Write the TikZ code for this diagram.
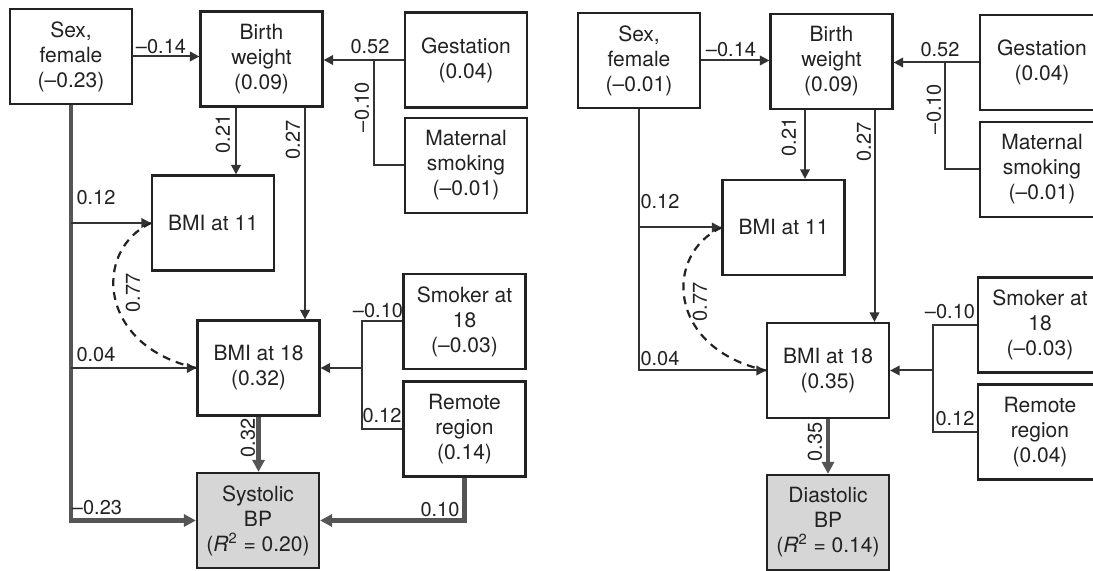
\documentclass[tikz,border=0pt]{standalone}
\usepackage{fontspec}
\setmainfont{TeX Gyre Heros}
\usetikzlibrary{arrows.meta,calc}
\definecolor{ink}{HTML}{222222}
\definecolor{lineC}{HTML}{333333}
\definecolor{thickC}{HTML}{555555}
\definecolor{bpfill}{HTML}{D6D6D6}
\begin{document}
\begin{tikzpicture}[x=0.5pt,y=-0.5pt,
  box/.style={draw=ink, line width=1.1pt, minimum width=61pt, minimum height=47.5pt, align=center, inner sep=0pt, font=\fontsize{10.5}{12.5}\selectfont, text=ink},
  bpbox/.style={box, fill=bpfill},
  conn/.style={draw=lineC, line width=1pt},
  arr/.style={conn, -{Triangle[length=4.8pt,width=4.8pt]}},
  thk/.style={draw=thickC, line width=2.4pt},
  thkarr/.style={thk, -{Triangle[length=6pt,width=6pt]}},
  dsh/.style={draw=ink, line width=1.1pt, dash pattern=on 4pt off 3pt},
  lbl/.style={font=\fontsize{10}{11}\selectfont, text=ink, inner sep=0pt},
  vlbl/.style={lbl, rotate=90}]
\useasboundingbox (0,0) rectangle (1093,571);
\fill[white] (0,0) rectangle (1093,571);
\clip (0,0) rectangle (1093,571);

% ---------- left panel ----------
\node[box] (sexL) at (71,56.5) {Sex,\\female\\(–0.23)};
\node[box] (bwL) at (261.5,59) {Birth\\weight\\(0.09)};
\node[box] (gestL) at (466,60) {Gestation\\(0.04)};
\node[box] (matL) at (466,165.5) {Maternal\\smoking\\(–0.01)};
\node[box] (b11L) at (213,223) {BMI at 11};
\node[box] (b18L) at (258.5,368) {BMI at 18\\(0.32)};
\node[box] (smkL) at (464.5,321.5) {Smoker at\\18\\(–0.03)};
\node[box] (remL) at (464.5,429) {Remote\\region\\(0.14)};
\node[bpbox] (sysL) at (258,520.5) {Systolic\\BP\\(\textit{R}\textsuperscript{2} = 0.20)};

\coordinate (jgL) at (374,0);
\coordinate (jsL) at (362,0);
\coordinate (a1) at ($(bwL.south)+(-25.5,0)$);
\coordinate (a2) at ($(bwL.south)+(43.5,0)$);

\draw[arr] (sexL.east) -- (sexL.east -| bwL.west);
\draw[arr] (gestL.west) -- (gestL.west -| bwL.east);
\draw[conn] (matL.west) -- (matL.west -| jgL) -- (gestL.west -| jgL);
\draw[arr] (a1) -- (a1 |- b11L.north);
\draw[arr] (a2) -- (a2 |- b18L.north);
\draw[thkarr] (sexL.south) |- (sysL.west);
\draw[arr] (sexL.south |- b11L.west) -- (b11L.west);
\draw[arr] (sexL.south |- b18L.west) -- (b18L.west);
\draw[dsh] (b11L.west) .. controls +(-58,27) and +(-99,-22) .. (b18L.west);
\draw[arr] (jsL |- b18L.east) -- (b18L.east);
\draw[conn] (smkL.west) -- (smkL.west -| jsL) -- (remL.west -| jsL) -- (remL.west);
\draw[thkarr] (b18L.south) -- (b18L.south |- sysL.north);
\draw[thkarr] (remL.south) |- (sysL.east);

\node[lbl] (l1) at (161,47) {–0.14};
\node[lbl] (l2) at (370,47) {0.52};
\node[vlbl] (l3) at (362,107) {–0.10};
\node[vlbl] (l4) at (293,140) {0.27};
\node[vlbl] (l5) at (223,134) {0.21};
\node[lbl] (l6) at (96,198) {0.12};
\node[vlbl] (l7) at (133,293) {0.77};
\node[lbl] (l8) at (96,355) {0.04};
\node[lbl] (l9) at (378,311) {–0.10};
\node[lbl] (l10) at (382,416) {0.12};
\node[vlbl] (l11) at (248,438) {0.32};
\node[lbl] (l12) at (440,510) {0.10};
\node[lbl] (l13) at (97,508) {–0.23};

% ---------- right panel ----------
\node[box] (sexR) at (639,60.5) {Sex,\\female\\(–0.01)};
\node[box] (bwR) at (831.5,61.5) {Birth\\weight\\(0.09)};
\node[box, minimum width=62pt] (gestR) at (1042,62.5) {Gestation\\(0.04)};
\node[box, minimum width=62pt] (matR) at (1042,169.5) {Maternal\\smoking\\(–0.01)};
\node[box] (b11R) at (783.5,227.5) {BMI at 11};
\node[box] (b18R) at (828,370.5) {BMI at 18\\(0.35)};
\node[box, minimum width=62pt] (smkR) at (1040,325) {Smoker at\\18\\(–0.03)};
\node[box, minimum width=62pt] (remR) at (1040,432) {Remote\\region\\(0.04)};
\node[bpbox] (diaR) at (828,522.5) {Diastolic\\BP\\(\textit{R}\textsuperscript{2} = 0.14)};

\coordinate (jgR) at (945,0);
\coordinate (jsR) at (933,0);
\coordinate (a3) at ($(bwR.south)+(-26.5,0)$);
\coordinate (a4) at ($(bwR.south)+(43,0)$);

\draw[arr] (sexR.east) -- (sexR.east -| bwR.west);
\draw[arr] (gestR.west) -- (gestR.west -| bwR.east);
\draw[conn] (matR.west) -- (matR.west -| jgR) -- (gestR.west -| jgR);
\draw[arr] (a3) -- (a3 |- b11R.north);
\draw[arr] (a4) -- (a4 |- b18R.north);
\draw[arr] (sexR.south) |- (b18R.west);
\draw[arr] (sexR.south |- b11R.west) -- (b11R.west);
\draw[dsh] (b11R.west) .. controls +(-58,27) and +(-99,-22) .. (b18R.west);
\draw[arr] (jsR |- b18R.east) -- (b18R.east);
\draw[conn] (smkR.west) -- (smkR.west -| jsR) -- (remR.west -| jsR) -- (remR.west);
\draw[thkarr] (b18R.south) -- (b18R.south |- diaR.north);

\node[lbl] (r1) at (731,50) {–0.14};
\node[lbl] (r2) at (940,50) {0.52};
\node[vlbl] (r3) at (934,109) {–0.10};
\node[vlbl] (r4) at (864,142) {0.27};
\node[vlbl] (r5) at (789,137) {0.21};
\node[lbl] (r6) at (660,202) {0.12};
\node[vlbl] (r7) at (700,302) {0.77};
\node[lbl] (r8) at (660,359) {0.04};
\node[lbl] (r9) at (950,312) {–0.10};
\node[lbl] (r10) at (955,419) {0.12};
\node[vlbl] (r11) at (815,442) {0.35};
\end{tikzpicture}
\end{document}
